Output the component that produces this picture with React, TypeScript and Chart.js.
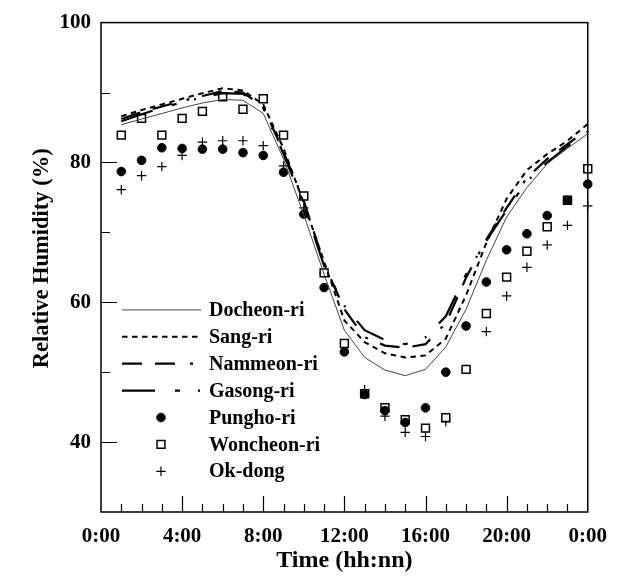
import React, { useEffect, useRef } from 'react';
import { Chart, registerables } from 'chart.js';

Chart.register(...registerables);

// ---- data ----
const hours = [1, 2, 3, 4, 5, 6, 7, 8, 9, 10, 11, 12, 13, 14, 15, 16, 17, 18, 19, 20, 21, 22, 23, 24];

const docheonRi = [85.4, 86.2, 87.0, 87.8, 88.5, 89.0, 88.9, 87.0, 80.5, 72.5, 64.0, 56.0, 52.1, 50.3, 49.5, 50.4, 53.6, 59.0, 66.0, 72.2, 76.4, 79.8, 82.0, 84.1];
const sangRi = [86.6, 87.5, 88.3, 89.1, 89.9, 90.6, 90.3, 88.3, 82.0, 74.2, 65.8, 57.4, 54.3, 52.7, 52.1, 52.4, 54.8, 61.0, 68.5, 74.8, 78.9, 81.2, 83.1, 85.5];
const nammeonRi = [86.2, 87.2, 88.0, 88.8, 89.5, 90.2, 90.0, 88.0, 81.5, 74.5, 65.5, 59.0, 55.0, 53.8, 53.5, 54.0, 57.0, 63.5, 69.0, 73.5, 77.8, 80.5, 82.6, 84.8];
const gasongRi = [85.9, 86.9, 87.8, 88.6, 89.3, 89.9, 89.8, 87.8, 81.2, 74.0, 65.2, 59.5, 56.0, 54.6, 54.0, 55.0, 58.0, 64.0, 68.8, 73.2, 77.3, 80.0, 82.3, 84.4];

const punghoRi = [78.7, 80.3, 82.1, 82.0, 81.9, 81.9, 81.4, 81.0, 78.6, 72.6, 62.1, 52.9, 46.8, 44.5, 42.8, 44.9, 50.0, 56.6, 62.9, 67.5, 69.8, 72.4, 74.6, 76.9];
const woncheonRi = [83.9, 86.3, 83.9, 86.3, 87.3, 89.4, 87.6, 89.1, 83.9, 75.2, 64.2, 54.1, 46.9, 44.9, 43.2, 42.0, 43.5, 50.4, 58.4, 63.6, 67.3, 70.8, 74.6, 79.1];
const okDong = [76.1, 78.1, 79.4, 81.0, 82.9, 83.1, 83.1, 82.4, 79.5, 73.5, 64.2, 54.1, 47.5, 43.7, 41.4, 40.8, 42.9, 50.4, 55.8, 60.9, 65.0, 68.2, 71.0, 73.8];

const xTickLabels = ['0:00', '4:00', '8:00', '12:00', '16:00', '20:00', '0:00'];
const yTickLabels = [40, 60, 80, 100];
const yTitle = 'Relative Humidity (%)';
const xTitle = 'Time (hh:nn)';

const FONT = "'Liberation Serif', 'Times New Roman', serif";

const toXY = (vals: number[]) => vals.map((v, i) => ({ x: hours[i], y: v }));

// frame + inward ticks + y title
const frameAndTicks = {
  id: 'frameAndTicks',
  afterDatasetsDraw(chart: any) {
    const { ctx, chartArea: a, scales } = chart;
    const x = scales.x;
    const y = scales.y;
    ctx.save();
    ctx.strokeStyle = '#000';
    ctx.lineWidth = 1.5;
    ctx.strokeRect(a.left, a.top, a.right - a.left, a.bottom - a.top);
    ctx.lineWidth = 1.2;
    ctx.beginPath();
    for (let h = 1; h < 24; h++) {
      const px = Math.round(x.getPixelForValue(h)) + 0.5;
      const len = h % 4 === 0 ? 16 : 8;
      ctx.moveTo(px, a.bottom);
      ctx.lineTo(px, a.bottom - len);
    }
    for (let v = 40; v < 100; v += 10) {
      const py = Math.round(y.getPixelForValue(v)) + 0.5;
      const len = v % 20 === 0 ? 16 : 9;
      ctx.moveTo(a.left, py);
      ctx.lineTo(a.left + len, py);
    }
    ctx.stroke();

    // y-axis title
    ctx.translate(42.5, a.top + (a.bottom - a.top) / 2 - 9);
    ctx.rotate(-Math.PI / 2);
    ctx.fillStyle = '#000';
    ctx.font = `bold 22.5px ${FONT}`;
    ctx.textAlign = 'center';
    ctx.textBaseline = 'middle';
    ctx.fillText(yTitle, 0, 0);
    ctx.restore();
  },
};

// legend inside plot area
const insideLegend = {
  id: 'insideLegend',
  afterDraw(chart: any) {
    const { ctx, chartArea: a } = chart;
    const x0 = a.left + 21;
    const x1 = a.left + 100;
    const xm = a.left + 60;
    const xt = a.left + 108;
    const y0 = a.top + 287.3;
    const dy = 26.9;
    ctx.save();
    chart.data.datasets.forEach((ds: any, i: number) => {
      const yy = y0 + i * dy;
      if (ds.showLine !== false) {
        ctx.strokeStyle = ds.borderColor;
        ctx.lineWidth = ds.borderWidth;
        ctx.setLineDash(ds.borderDash || []);
        ctx.beginPath();
        ctx.moveTo(x0, yy);
        ctx.lineTo(x1, yy);
        ctx.stroke();
        ctx.setLineDash([]);
      } else {
        const r = ds.pointRadius;
        ctx.lineWidth = ds.pointBorderWidth;
        ctx.strokeStyle = ds.pointBorderColor;
        ctx.fillStyle = ds.pointBackgroundColor;
        ctx.beginPath();
        if (ds.pointStyle === 'circle') {
          ctx.arc(xm, yy, r, 0, Math.PI * 2);
          ctx.fill();
          ctx.stroke();
        } else if (ds.pointStyle === 'rect') {
          const s = r * Math.SQRT1_2;
          ctx.rect(xm - s, yy - s, 2 * s, 2 * s);
          ctx.fill();
          ctx.stroke();
        } else {
          ctx.moveTo(xm - r, yy);
          ctx.lineTo(xm + r, yy);
          ctx.moveTo(xm, yy - r);
          ctx.lineTo(xm, yy + r);
          ctx.stroke();
        }
      }
      ctx.fillStyle = '#000';
      ctx.font = `bold 20px ${FONT}`;
      ctx.textAlign = 'left';
      ctx.textBaseline = 'middle';
      ctx.fillText(ds.label, xt, yy + 1);
    });
    ctx.restore();
  },
};

export default function App() {
  const ref = useRef<HTMLCanvasElement | null>(null);

  useEffect(() => {
    if (!ref.current) return;
    const lineDs = (label: string, vals: number[], dash: number[], width: number, color: string) => ({
      label,
      data: toXY(vals),
      borderColor: color,
      borderWidth: width,
      borderDash: dash,
      pointRadius: 0,
      fill: false,
      tension: 0,
      clip: false,
    });
    const pointDs = (label: string, vals: number[], style: string, radius: number, bg: string, bw: number) => ({
      label,
      data: toXY(vals),
      showLine: false,
      pointStyle: style,
      pointRadius: radius,
      pointBackgroundColor: bg,
      pointBorderColor: '#000',
      pointBorderWidth: bw,
      borderColor: '#000',
      backgroundColor: bg,
      clip: false,
    });

    const chart = new Chart(ref.current, {
      type: 'line',
      data: {
        datasets: [
          lineDs('Docheon-ri', docheonRi, [], 1, '#444'),
          lineDs('Sang-ri', sangRi, [5.5, 4.5], 2, '#000'),
          lineDs('Nammeon-ri', nammeonRi, [20, 13, 20, 15, 3, 13], 2.2, '#000'),
          lineDs('Gasong-ri', gasongRi, [33, 20, 5, 18, 2, 18], 2.2, '#000'),
          pointDs('Pungho-ri', punghoRi, 'circle', 4.3, '#000', 1),
          pointDs('Woncheon-ri', woncheonRi, 'rect', 5.6, '#fff', 1.5),
          pointDs('Ok-dong', okDong, 'cross', 4.7, '#000', 1.2),
        ] as any,
      },
      options: {
        animation: false,
        responsive: true,
        maintainAspectRatio: false,
        layout: { padding: { left: 0, top: 22, right: 30, bottom: 0 } },
        plugins: {
          legend: { display: false },
          tooltip: { enabled: false },
        },
        scales: {
          x: {
            type: 'linear',
            min: 0,
            max: 24,
            grid: { display: false, drawTicks: false },
            border: { display: false },
            ticks: {
              stepSize: 4,
              autoSkip: false,
              maxRotation: 0,
              padding: 12,
              color: '#000',
              font: { family: FONT, size: 21, weight: 'bold' },
              callback: (v: any) => {
                const n = Number(v);
                return n % 4 === 0 ? xTickLabels[n / 4] : '';
              },
            },
            title: {
              display: true,
              text: xTitle,
              color: '#000',
              font: { family: FONT, size: 24, weight: 'bold' },
              padding: { top: 0, bottom: 8 },
            },
            afterFit: (s: any) => {
              s.height = 71;
            },
          },
          y: {
            type: 'linear',
            min: 30,
            max: 100,
            grid: { display: false, drawTicks: false },
            border: { display: false },
            ticks: {
              stepSize: 10,
              autoSkip: false,
              padding: 10,
              color: '#000',
              font: { family: FONT, size: 21, weight: 'bold' },
              callback: (v: any) => (yTickLabels.includes(Number(v)) ? String(v) : ''),
            },
            title: { display: false },
            afterFit: (s: any) => {
              s.width = 101;
            },
          },
        },
      } as any,
      plugins: [frameAndTicks, insideLegend],
    });
    return () => chart.destroy();
  }, []);

  return (
    <div style={{ position: 'absolute', left: 0, top: 0, width: 619, height: 583, background: '#fff' }}>
      <canvas ref={ref} />
    </div>
  );
}
